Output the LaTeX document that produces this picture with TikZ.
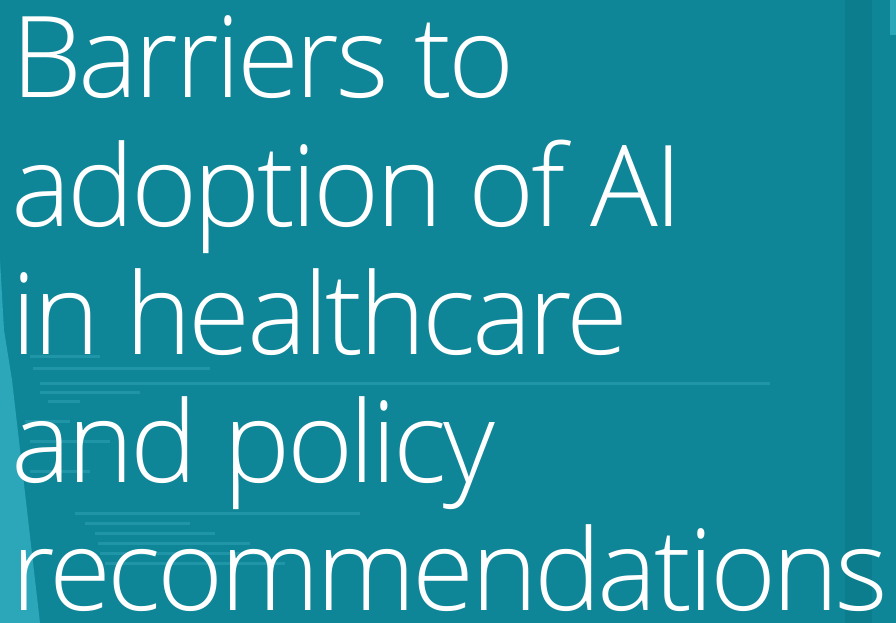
\documentclass[tikz,border=0pt]{standalone}
\usepackage{fontspec}
\setmainfont{Open Sans}[UprightFont=* Light, LetterSpace=-3.2]
\definecolor{tealbg}{HTML}{0E8698}
\definecolor{tealdark}{HTML}{0A7886}
\definecolor{teallight}{HTML}{2CA6B9}
\definecolor{codeline}{HTML}{3FB3C4}
\tikzset{
    titleline/.style={anchor=base west, inner sep=0pt, text=white,
        font=\fontsize{113}{128}\selectfont},
    codebar/.style={fill=codeline, opacity=0.35}
}
\begin{document}
\begin{tikzpicture}[x=1pt, y=-1pt]
        \useasboundingbox (0,0) rectangle (896,623);
        % background
        \fill[tealbg] (0,0) rectangle (896,623);
        \fill[teallight] (0,260) -- (4,330) -- (12,380) -- (40,623) -- (0,623) -- cycle;
        \fill[tealdark, opacity=0.6] (845,0) rectangle (872,623);
        \fill[teallight] (890,0) rectangle (896,35);
        % faint code lines
        \foreach \y/\a/\b in {355/30/100, 367/33/210, 382/40/770, 391/40/140, 400/48/80,
                              420/25/70, 440/30/110, 470/30/90, 512/75/360, 522/85/190,
                              532/95/215, 542/98/250, 552/100/260, 562/105/285} {
            \fill[codebar] (\a,\y) rectangle (\b,\y+3);
        }
        % title
        \node[titleline] (l1) at (11,98) {Barriers to};
        \node[titleline] (l2) at (11,226) {adoption of AI};
        \node[titleline] (l3) at (11,354) {in healthcare};
        \node[titleline] (l4) at (11,482) {and policy};
        \node[titleline] (l5) at (11,610) {recommendations};
    \end{tikzpicture}
\end{document}
